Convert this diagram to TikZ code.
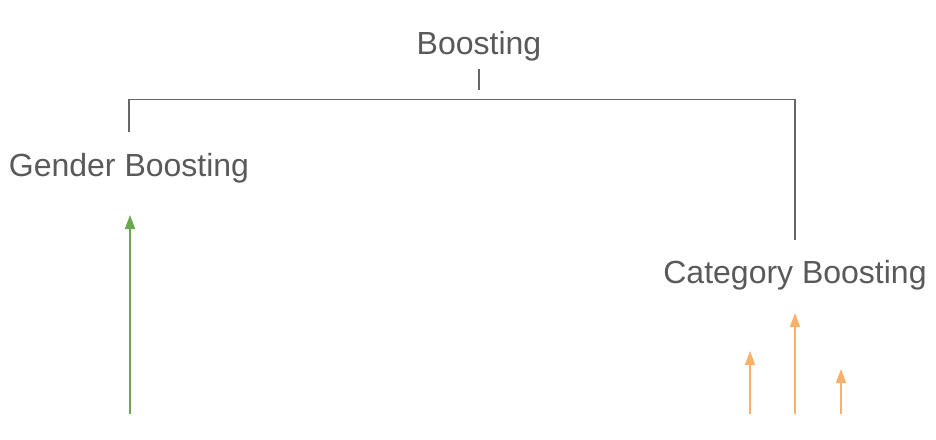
\documentclass[tikz,border=0pt]{standalone}
\usepackage{fontspec}
\setmainfont{Liberation Sans}
\definecolor{txt}{RGB}{89,89,89}
\definecolor{bracket}{RGB}{102,102,102}
\definecolor{gender}{RGB}{106,168,79}
\definecolor{cat}{RGB}{246,178,107}
\usetikzlibrary{
  arrows.meta,     % Triangle tips
  positioning      % positions like above of node
}
\tikzset{
  every node/.style = {
    inner sep=0pt,
    outer sep=0pt,
    anchor=base,
    text=txt,
    font=\fontsize{32}{38}\selectfont
  },
  bracketline/.style = {draw=bracket, line width=1.1pt},
  gendarrow/.style = {draw=gender, line width=1.6pt, -{Triangle[width=10pt,length=14pt]}},
  catarrow/.style = {draw=cat, line width=1.6pt, -{Triangle[width=10pt,length=14pt]}}
}

\begin{document}
\begin{tikzpicture}[x=1pt, y=-1pt]
\useasboundingbox (0,0) rectangle (936,439);

% labels
\node (boost)    at (479,54)  {Boosting};
\node (gender)   at (129,176) {Gender Boosting};
\node (category) at (795,283) {Category Boosting};

% tree lines
\draw[bracketline] ([yshift=-8pt]boost.south) -- ([yshift=-29pt]boost.south);
\draw[bracketline] ([yshift=21pt]gender.north) -- ++(0,-32) -| ([yshift=20pt]category.north);

% green arrow
\coordinate (g-base) at (130,414);
\coordinate (g-tip)  at (130,215);
\draw[gendarrow] (g-base) -- (g-tip);

% orange arrows
\foreach \x/\t [count=\i] in {750/351, 795/313, 841/369} {
  \coordinate (c\i-base) at (\x,414);
  \coordinate (c\i-tip)  at (\x,\t);
  \draw[catarrow] (c\i-base) -- (c\i-tip);
}
\end{tikzpicture}
\end{document}
